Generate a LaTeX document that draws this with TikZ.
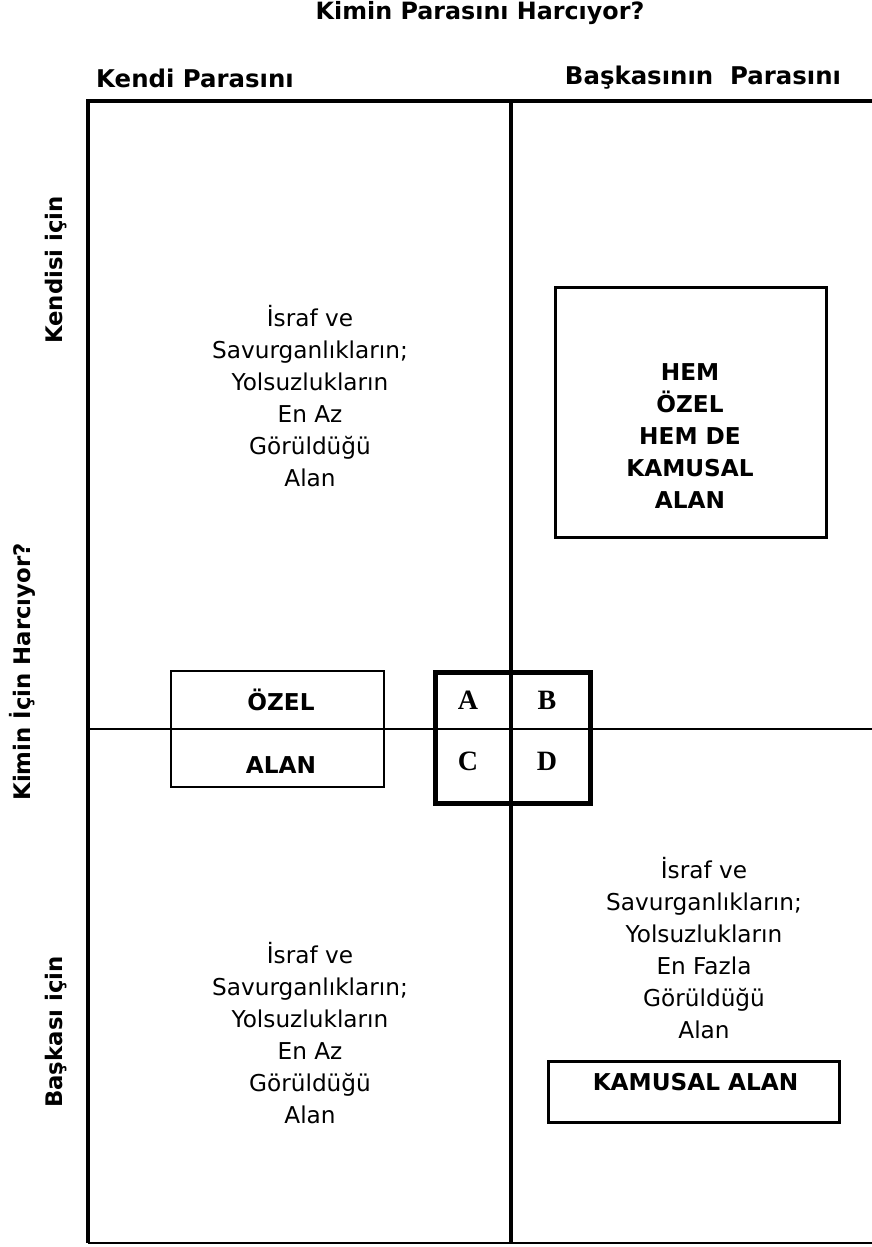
\documentclass[tikz,border=0pt]{standalone}
\usepackage{fontspec}
\setmainfont{DejaVu Sans}
\newfontfamily\lettersf{Liberation Serif}

\begin{document}
\begin{tikzpicture}[x={(0.5pt,0)},y={(0,-0.5pt)},line join=miter,
		heading/.style={font=\fontsize{12.2}{14}\selectfont\bfseries},
		sidehead/.style={font=\fontsize{11.4}{14}\selectfont\bfseries,rotate=90},
		areatext/.style={align=center,font=\fontsize{11.6}{16}\selectfont},
		areabold/.style={align=center,font=\fontsize{11.6}{16}\selectfont\bfseries},
		cell/.style={font=\fontsize{14}{16}\selectfont\lettersf\bfseries},
		areabox/.style={draw,line width=1.5pt,inner sep=0pt}]
	\useasboundingbox (0,0) rectangle (872,1247);
	% cerceve
	\draw[line width=2pt] (872,101)--(88,101)--(88,1243);
	\draw[line width=1.4pt] (88,1243)--(872,1243);
	\draw[line width=1.8pt] (511,101)--(511,1243);
	\draw[line width=0.6pt] (88,729)--(872,729);
	% basliklar
	\node[heading,font=\fontsize{11.9}{14}\selectfont\bfseries] (baslik) at (480,13) {Kimin Parasını Harcıyor?};
	\node[heading] (kendi) at (195,78) {Kendi Parasını};
	\node[heading] (baskasi) at (703,78) {Başkasının\ \ Parasını};
	\node[sidehead] (kendisiicin) at (56,270) {Kendisi için};
	\node[sidehead] (kiminicin) at (22,672) {Kimin İçin Harcıyor?};
	\node[sidehead] (baskasiicin) at (56,1032) {Başkası için};
	% alanlar
	\node[areatext] (solust) at (310,396) {İsraf ve\\Savurganlıkların;\\Yolsuzlukların\\En Az\\Görüldüğü\\Alan};
	\node[areatext] (solalt) at (310,1033) {İsraf ve\\Savurganlıkların;\\Yolsuzlukların\\En Az\\Görüldüğü\\Alan};
	\node[areatext] (sagalt) at (704,948) {İsraf ve\\Savurganlıkların;\\Yolsuzlukların\\En Fazla\\Görüldüğü\\Alan};
	\node[areabox,minimum width=135.5pt,minimum height=125pt] (hemkutu) at (690.5,412) {};
	\node[areabold] (hem) at (690,436) {HEM\\ÖZEL\\HEM DE\\KAMUSAL\\ALAN};
	\node[areabox,minimum width=145.5pt,minimum height=30.5pt] (kamukutu) at (693.5,1091.5) {};
	\node[areabold] (kamusal) at (695.5,1082) {KAMUSAL ALAN};
	\node[areabox,line width=1.3pt,minimum width=106.5pt,minimum height=58pt,fill=white] (ozelkutu) at (277.5,729) {};
	\draw[line width=0.6pt] (ozelkutu.west)--(ozelkutu.east);
	\node[areabold] (ozel) at (281,700) {ÖZEL};
	\node[areabold] (alan) at (281,765) {ALAN};
	% A B C D
	\node[areabox,line width=2.5pt,minimum width=77.5pt,minimum height=65.5pt] (harf) at (512.5,737.5) {};
	\foreach \h/\x/\y in {A/468/700,B/547/700,C/468/761,D/547/761}
		\node[cell] (cell\h) at (\x,\y) {\h};
\end{tikzpicture}
\end{document}
